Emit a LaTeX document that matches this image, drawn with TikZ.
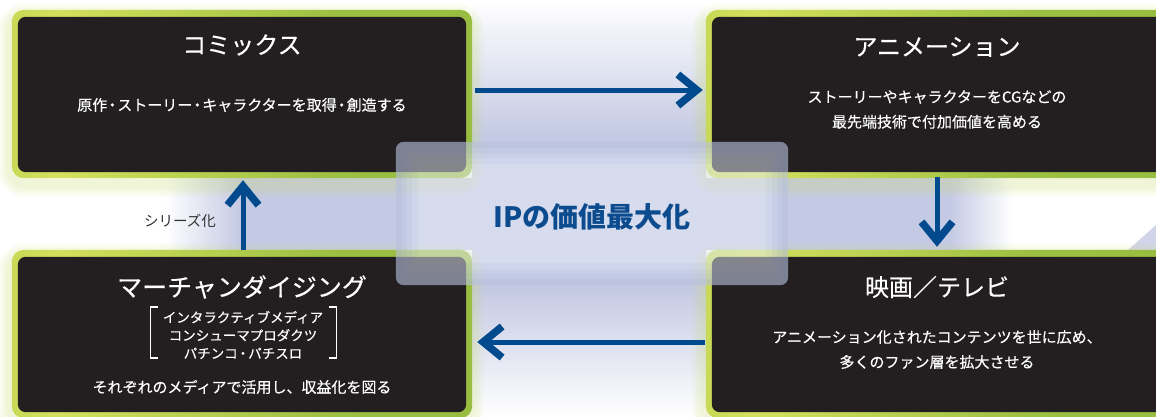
\documentclass[tikz,border=0pt]{standalone}
\usepackage{fontspec}
\newfontfamily\cjk{Noto Sans CJK JP}
\newfontfamily\cjkw{Noto Sans CJK JP}[FakeBold=0.35]
\usetikzlibrary{arrows.meta,calc}
\definecolor{boxblack}{HTML}{231F20}
\definecolor{gdark}{HTML}{8FB83C}
\definecolor{glight}{HTML}{D3E05C}
\definecolor{glow}{HTML}{C8DC6A}
\definecolor{bandblue}{HTML}{C5CAE4}
\definecolor{arrowblue}{HTML}{004A8D}
\definecolor{iptext}{HTML}{0B4B8E}
\definecolor{ipfill}{HTML}{E8ECF8}
\definecolor{ipedge}{HTML}{6478B4}
\definecolor{labelgray}{HTML}{333333}
\pgfdeclarehorizontalshading{greenshade}{100bp}{color(0bp)=(gdark); color(30bp)=(glight); color(60bp)=(gdark!80!glight); color(100bp)=(gdark)}
\newcommand\nd{\kern-2.5pt・\kern-2.5pt}
\newcommand\ndsmall{\kern-1.5pt・\kern-1.5pt}
\tikzset{
  panel/.style={inner sep=0pt, minimum width=#1, minimum height=168pt},
  title/.style={text=white, font=\cjkw\fontsize{24}{28}\selectfont},
  body/.style={text=white, align=center, font=\cjkw\fontsize{15}{25}\selectfont},
  small/.style={text=white, align=center, font=\cjkw\fontsize{13.5}{18}\selectfont},
  flow/.style={draw=arrowblue, line width=5pt, -{Straight Barb[length=19pt,width=31pt,line width=7.5pt]}},
  iplabel/.style={text=iptext, font=\cjk\bfseries\fontsize{28}{32}\selectfont},
  sidelabel/.style={text=labelgray, font=\cjk\fontsize{14.5}{18}\selectfont},
}
\begin{document}
\begin{tikzpicture}[x=1pt,y=-1pt]
\clip (0,0) rectangle (1156,416);
\fill[white] (0,0) rectangle (1156,416);
% background bands
\shade[left color=white, right color=bandblue] (165,178) rectangle (240,250);
\fill[bandblue] (239,178) rectangle (951,250);
\shade[left color=bandblue, right color=white] (950,178) rectangle (1012,250);
\shade[top color=white, bottom color=bandblue] (472,0) rectangle (706,135);
\fill[bandblue] (472,134) rectangle (706,291);
\shade[top color=bandblue, bottom color=white] (472,290) rectangle (706,416);
\fill[bandblue!80] (1128,250) -- (1156,225) -- (1156,250) -- cycle;
% boxes
\node[panel=460pt] (comics) at (242,94) {};
\node[panel=462pt] (anim) at (937,94) {};
\node[panel=460pt] (merch) at (242,334) {};
\node[panel=462pt] (film) at (937,334) {};
% glows
\foreach \b in {comics,anim,merch,film}{
  \foreach \w in {24,17,10}{
    \draw[glow, opacity=0.09, line width=\w pt, rounded corners=14pt]
      ([shift={(-1,6)}]\b.north west) rectangle ([shift={(-1,6)}]\b.south east);
  }
}
\foreach \b in {comics,anim,merch,film}{
  \shade[shading=greenshade, rounded corners=12pt] (\b.north west) rectangle (\b.south east);
  \fill[boxblack, rounded corners=8pt] ([shift={(6,7)}]\b.north west) rectangle ([shift={(-6,-6)}]\b.south east);
}
% texts
\node[title] (t1) at (242,45) {コミックス};
\node[body] (s1) at (242,105) {原作\nd ストーリー\nd キャラクターを取得\nd 創造する};
\node[title] (t2) at (937,47) {アニメーション};
\node[body] (s2) at (937,109.5) {ストーリーやキャラクターをCGなどの\\最先端技術で付加価値を高める};
\node[title] (t3) at (937,287) {映画／テレビ};
\node[body] (s3) at (937,349.5) {アニメーション化されたコンテンツを世に広め、\\多くのファン層を拡大させる};
\node[title, font=\cjkw\fontsize{25}{28}\selectfont] (t4) at (242,287) {マーチャンダイジング};
\node[small] (l4) at (243,335) {インタラクティブメディア\\コンシューマプロダクツ\\パチンコ\ndsmall パチスロ};
\node[body] (s4) at (242,387) {それぞれのメディアで活用し、収益化を図る};
\draw[white, line width=1.1pt] (158,307) -- (150.5,307) -- (150.5,358) -- (158,358);
\draw[white, line width=1.1pt] (329,307) -- (336.5,307) -- (336.5,358) -- (329,358);
% arrows
\draw[flow] ($(comics.east)+(3,-4)$) -- ($(anim.west)+(-3,-4)$);
\draw[flow] ($(anim.south)+(0,-1)$) -- ($(film.north)+(0,-3)$);
\draw[flow] ($(film.west)+(-1,8)$) -- ($(merch.east)+(5,8)$);
\draw[flow] ($(merch.north)+(1,0)$) -- ($(comics.south)+(1,2)$);
\node[sidelabel] (series) at (180,221) {シリーズ化};
% IP overlay
\node[inner sep=0pt, minimum width=392pt, minimum height=143pt] (ip) at (592,213.5) {};
\fill[ipfill, opacity=0.5, rounded corners=8pt] (ip.north west) rectangle (ip.south east);
\begin{scope}
  \clip[rounded corners=8pt] (ip.north west) rectangle (ip.south east);
  \foreach \w in {44,32,22,12}{
    \draw[ipedge, opacity=0.06, line width=\w pt, rounded corners=8pt] (ip.north west) rectangle (ip.south east);
  }
\end{scope}
\node[iplabel] (iptitle) at (592,217) {IPの価値最大化};
\end{tikzpicture}
\end{document}
